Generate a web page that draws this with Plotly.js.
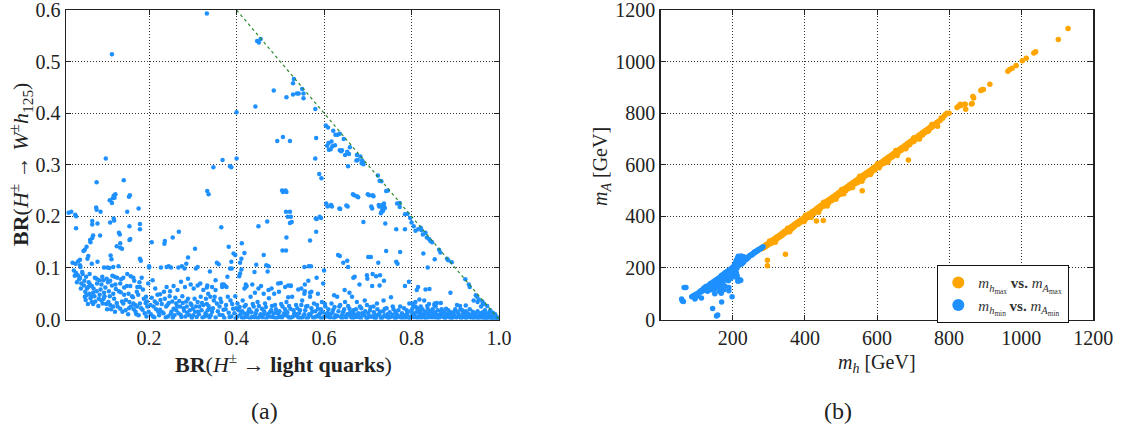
<!DOCTYPE html>
<html>
<head>
<meta charset="utf-8">
<script src="https://cdn.plot.ly/plotly-3.0.1.min.js"></script>
<style>
html,body{margin:0;padding:0;background:#fff;}
#chart{width:1124px;height:434px;}
</style>
</head>
<body>
<div id="chart"></div>
<script>
// ---- Panel (a): BR(H -> light quarks) vs BR(H -> W h125) ----
const brUpper = [
[0.332,0.593],[0.115,0.514],[0.447,0.540],[0.451,0.537],[0.455,0.544],
[0.531,0.466],[0.529,0.458],[0.550,0.447],[0.553,0.438],[0.542,0.438],[0.538,0.438],[0.529,0.436],[0.553,0.429],[0.514,0.431],[0.485,0.444],[0.443,0.413],[0.400,0.402],[0.580,0.408],
[0.604,0.376],[0.609,0.372],[0.621,0.366],[0.626,0.358],[0.631,0.358],[0.636,0.360],[0.645,0.350],
[0.610,0.342],[0.617,0.345],[0.607,0.337],[0.611,0.329],[0.615,0.330],[0.619,0.336],[0.625,0.338],
[0.636,0.328],[0.641,0.328],[0.639,0.326],[0.648,0.319],[0.653,0.325],[0.657,0.321],[0.659,0.334],
[0.675,0.319],[0.674,0.308],[0.677,0.309],[0.683,0.316],[0.687,0.308],[0.689,0.305],[0.690,0.301],[0.686,0.303],
[0.493,0.346],[0.506,0.354],[0.522,0.346],[0.582,0.352],
[0.368,0.309],[0.400,0.312],[0.580,0.312],[0.347,0.295],[0.385,0.297],[0.388,0.295],
[0.101,0.312],[0.080,0.266],[0.142,0.270],[0.079,0.217],[0.080,0.213],[0.089,0.209],
[0.110,0.231],[0.115,0.226],[0.121,0.236],[0.123,0.243],[0.119,0.240],[0.117,0.235],
[0.150,0.209],[0.154,0.238],[0.156,0.241],[0.176,0.215],[0.016,0.207],[0.022,0.209],[0.031,0.203],[0.033,0.200],[0.119,0.196],
[0.333,0.249],[0.336,0.243],[0.504,0.250],[0.506,0.247],[0.513,0.209],[0.522,0.209],[0.517,0.199],
[0.589,0.282],[0.594,0.274],[0.581,0.196],[0.593,0.197],[0.608,0.219],[0.616,0.222],[0.618,0.219],[0.637,0.214],[0.654,0.219],
[0.669,0.241],[0.675,0.239],[0.678,0.237],[0.703,0.241],[0.713,0.239],[0.710,0.215],
[0.726,0.219],[0.733,0.222],[0.737,0.219],[0.731,0.208],[0.735,0.211],[0.739,0.216],[0.746,0.250],[0.767,0.225],[0.773,0.218],
[0.723,0.279],[0.727,0.269],[0.731,0.268],[0.742,0.249],[0.655,0.297],
[0.033,0.177],[0.070,0.191],[0.070,0.184],[0.082,0.186],[0.120,0.192],[0.111,0.188],[0.155,0.181],[0.179,0.185],[0.179,0.175],
[0.088,0.163],[0.072,0.163],[0.070,0.158],[0.065,0.154],[0.066,0.150],[0.131,0.168],[0.133,0.165],[0.134,0.148],[0.157,0.156],[0.155,0.154],
[0.206,0.150],[0.236,0.152],[0.235,0.147],[0.268,0.170],[0.254,0.159],[0.305,0.137],
[0.057,0.141],[0.053,0.135],[0.050,0.133],[0.061,0.123],[0.059,0.118],[0.126,0.142],[0.134,0.139],[0.138,0.137],[0.112,0.124],[0.114,0.117],[0.179,0.118],[0.181,0.114],
[0.025,0.110],[0.032,0.108],[0.038,0.113],[0.042,0.116],[0.042,0.105],[0.043,0.102],[0.082,0.112],[0.069,0.108],
[0.200,0.103],[0.200,0.101],[0.097,0.101],[0.105,0.101],[0.109,0.100],[0.118,0.102],[0.130,0.103],
[0.227,0.101],[0.240,0.102],[0.245,0.103],[0.250,0.101],[0.267,0.101],[0.275,0.103],[0.281,0.099],[0.285,0.108],[0.289,0.120],[0.311,0.102],[0.307,0.099],
[0.512,0.250],[0.514,0.247],[0.666,0.243],[0.605,0.225],[0.615,0.221],[0.651,0.221],[0.635,0.215],[0.524,0.199],[0.522,0.187],[0.526,0.189],[0.583,0.195],[0.590,0.199],[0.470,0.190],[0.450,0.181],[0.365,0.179],[0.582,0.170],[0.514,0.159],[0.568,0.153],[0.412,0.148],[0.382,0.141],[0.505,0.134],[0.513,0.134],[0.393,0.128],[0.397,0.125],[0.418,0.129],[0.462,0.125],[0.411,0.118],[0.408,0.110],[0.388,0.112],[0.632,0.125],[0.636,0.123],[0.653,0.114],[0.644,0.110],[0.355,0.110],[0.359,0.107],[0.445,0.106],[0.468,0.105],[0.473,0.103],[0.555,0.102],[0.565,0.103],[0.570,0.103],[0.655,0.102],
[0.700,0.243],[0.711,0.241],[0.708,0.219],[0.725,0.222],[0.737,0.225],[0.730,0.206],[0.733,0.212],[0.734,0.215],[0.773,0.226],
[0.785,0.204],[0.791,0.205],[0.797,0.197],[0.800,0.188],[0.805,0.181],[0.809,0.172],[0.815,0.175],[0.823,0.173],[0.821,0.178],[0.832,0.168],[0.835,0.159],[0.840,0.156],[0.843,0.152],[0.847,0.150],[0.863,0.135],[0.866,0.130],[0.881,0.118],[0.884,0.115],[0.892,0.111],[0.923,0.078],[0.931,0.068],[0.933,0.063],[0.947,0.047],[0.950,0.044],[0.962,0.035],[0.966,0.030],[0.973,0.026],[0.980,0.018],[0.986,0.013],[0.991,0.010],
[0.690,0.189],[0.740,0.186],[0.765,0.175],[0.785,0.175],[0.826,0.165],[0.827,0.128],[0.853,0.117],[0.837,0.101],[0.742,0.133],[0.774,0.131],[0.701,0.121],[0.707,0.121],[0.724,0.110],[0.765,0.112],[0.768,0.108]
];
const brMiddle = [
[0.028,0.095],[0.033,0.090],[0.037,0.086],[0.042,0.081],[0.048,0.088],[0.051,0.066],[0.056,0.083],[0.061,0.063],[0.065,0.068],[0.069,0.065],[0.076,0.081],[0.080,0.079],[0.086,0.076],[0.091,0.068],[0.095,0.076],[0.103,0.079],[0.111,0.075],[0.115,0.066],[0.121,0.083],[0.127,0.081],[0.134,0.070],[0.141,0.081],[0.149,0.065],[0.158,0.084],[0.164,0.081],[0.173,0.063],[0.183,0.081],
[0.054,0.054],[0.057,0.047],[0.053,0.044],[0.063,0.050],[0.066,0.041],[0.072,0.052],[0.080,0.055],[0.089,0.058],[0.097,0.052],[0.108,0.055],[0.118,0.050],[0.124,0.059],[0.135,0.053],[0.143,0.048],[0.153,0.050],[0.163,0.043],[0.172,0.054],[0.179,0.063],[0.193,0.044],[0.208,0.076],[0.214,0.060],[0.225,0.049],[0.234,0.054],[0.240,0.063],[0.248,0.055],[0.256,0.065],[0.265,0.057],[0.273,0.073],[0.282,0.063],[0.289,0.079],[0.295,0.068],[0.302,0.060],[0.311,0.066],[0.317,0.070],[0.324,0.057],[0.332,0.062],
[0.339,0.093],[0.385,0.099],[0.389,0.099],[0.411,0.097],[0.408,0.089],[0.406,0.084],[0.441,0.092],[0.471,0.093],[0.600,0.095],[0.564,0.075],[0.583,0.081],[0.379,0.083],[0.371,0.068],[0.374,0.065],[0.367,0.063],[0.421,0.068],[0.423,0.065],[0.418,0.060],[0.495,0.070],[0.501,0.071],[0.518,0.066],[0.524,0.066],[0.548,0.060],[0.556,0.055],[0.568,0.052],[0.598,0.070],
[0.333,0.066],[0.344,0.063],[0.352,0.057],[0.352,0.076],[0.367,0.068],[0.377,0.063],[0.421,0.063],[0.436,0.068],[0.450,0.060],[0.456,0.065],[0.473,0.057],[0.480,0.060],[0.486,0.050],[0.511,0.063],[0.524,0.065],[0.541,0.058],[0.555,0.050],[0.571,0.054],[0.586,0.050],[0.556,0.068],[0.647,0.057],[0.658,0.052],[0.623,0.047],[0.518,0.043],[0.442,0.052],
[0.670,0.083],[0.698,0.086],[0.699,0.079],[0.711,0.088],[0.719,0.084],[0.728,0.086],[0.681,0.068],[0.710,0.065],[0.727,0.066],[0.737,0.075],[0.785,0.065],[0.794,0.073],[0.815,0.063],[0.812,0.057],[0.832,0.058],[0.841,0.059],[0.889,0.052],[0.818,0.039],[0.829,0.037],[0.853,0.031],[0.852,0.028],[0.867,0.032],[0.667,0.081]
];
const brLower = [
[0.069,0.034],[0.072,0.030],[0.091,0.037],[0.094,0.031],[0.107,0.034],[0.111,0.028],[0.118,0.025],[0.126,0.032],[0.134,0.021],[0.141,0.031],[0.146,0.018],[0.155,0.034],[0.158,0.025],[0.164,0.031],[0.169,0.015],[0.173,0.025],[0.179,0.031],[0.185,0.019],[0.192,0.032],[0.196,0.025],[0.199,0.015],[0.204,0.010],[0.210,0.025],[0.218,0.031],[0.225,0.019],[0.233,0.012],[0.239,0.025],[0.245,0.032],[0.251,0.015],[0.256,0.021],[0.262,0.031],[0.267,0.012],[0.271,0.025],[0.277,0.032],[0.280,0.017],[0.286,0.025],[0.292,0.008],[0.295,0.031],[0.300,0.021],[0.305,0.015],[0.309,0.005],[0.315,0.025],[0.321,0.032],[0.329,0.012],[0.334,0.018],[0.332,0.008],
[0.045,0.070],[0.040,0.078],[0.058,0.060],[0.062,0.072],[0.075,0.045],[0.085,0.040],[0.098,0.045],[0.104,0.020],[0.122,0.015],[0.138,0.035],[0.152,0.010],[0.165,0.020],[0.176,0.008],[0.188,0.040],[0.194,0.006],[0.212,0.004],[0.221,0.015],[0.229,0.030],[0.243,0.006],[0.254,0.003],[0.262,0.018],[0.274,0.005],[0.287,0.013],[0.298,0.003],[0.312,0.015],[0.322,0.004],[0.338,0.004],
[0.335,0.050],[0.340,0.044],[0.348,0.037],[0.332,0.030],[0.338,0.021],[0.344,0.015],[0.355,0.031],[0.361,0.025],[0.365,0.034],[0.370,0.019],[0.376,0.028],[0.382,0.013],[0.386,0.037],[0.392,0.021],[0.397,0.045],[0.402,0.031],[0.405,0.018],[0.409,0.010],[0.414,0.037],[0.418,0.025],[0.423,0.005],[0.427,0.015],[0.432,0.044],[0.435,0.005],[0.439,0.025],[0.444,0.012],[0.448,0.034],[0.453,0.006],[0.458,0.021],[0.462,0.050],[0.465,0.031],[0.470,0.010],[0.474,0.041],[0.479,0.018],[0.483,0.005],[0.488,0.028],[0.492,0.013],[0.497,0.054],[0.500,0.005],[0.505,0.025],[0.509,0.012],[0.514,0.034],[0.518,0.006],[0.523,0.021],[0.527,0.044],[0.532,0.012],[0.536,0.028],[0.541,0.004],[0.545,0.018],[0.550,0.037],[0.555,0.010],[0.559,0.025],[0.564,0.005],[0.568,0.044],[0.573,0.015],[0.577,0.031],[0.582,0.006],[0.586,0.021],[0.591,0.012],[0.595,0.034],[0.600,0.005],[0.603,0.025],[0.608,0.013],[0.612,0.005],[0.617,0.031],[0.621,0.019],[0.626,0.008],[0.630,0.044],[0.635,0.025],[0.639,0.005],[0.644,0.015],[0.648,0.034],[0.653,0.010],[0.658,0.021],[0.662,0.005],[0.667,0.013],
[0.664,0.044],[0.675,0.034],[0.682,0.025],[0.693,0.037],[0.698,0.028],[0.705,0.018],[0.713,0.025],[0.721,0.031],[0.728,0.015],[0.736,0.037],[0.739,0.021],[0.745,0.010],[0.753,0.043],[0.757,0.025],[0.763,0.015],[0.774,0.025],[0.782,0.008],[0.789,0.018],[0.795,0.031],[0.802,0.021],[0.805,0.012],[0.809,0.025],[0.812,0.005],[0.817,0.018],[0.821,0.025],[0.826,0.010],[0.831,0.015],[0.837,0.021],[0.843,0.005],[0.849,0.012],[0.855,0.025],[0.861,0.008],[0.867,0.015],[0.873,0.005],[0.879,0.021],[0.885,0.010],[0.892,0.004],[0.898,0.015],[0.904,0.028],[0.910,0.006],[0.916,0.018],[0.922,0.004],[0.928,0.012],[0.934,0.005],[0.940,0.015],[0.947,0.008],[0.953,0.004],[0.959,0.012],[0.965,0.006],[0.971,0.003],[0.977,0.008],[0.983,0.004],[0.989,0.006],[0.995,0.003],[0.998,0.001],
[0.667,0.018],[0.672,0.008],[0.687,0.012],[0.702,0.005],[0.717,0.008],[0.733,0.004],[0.751,0.005],[0.769,0.006],[0.786,0.003],[0.800,0.005],[0.802,0.031],[0.809,0.034],[0.840,0.030],[0.858,0.032],[0.911,0.026],[0.924,0.027],[0.942,0.037],[0.951,0.034],[0.954,0.039],[0.959,0.025],[0.963,0.030],[0.968,0.018],[0.980,0.015],
[0.352,0.004],[0.361,0.009],[0.372,0.003],[0.388,0.006],[0.398,0.002],[0.412,0.004],[0.419,0.011],[0.431,0.002],[0.442,0.007],[0.449,0.003],[0.461,0.009],[0.468,0.002],[0.477,0.006],[0.489,0.003],[0.496,0.011],[0.504,0.004],[0.513,0.008],[0.521,0.002],[0.529,0.006],[0.538,0.010],[0.546,0.003],[0.553,0.007],[0.561,0.002],[0.569,0.009],[0.578,0.004],[0.587,0.008],[0.594,0.002],[0.606,0.006],[0.615,0.010],[0.623,0.003],[0.631,0.007],[0.641,0.002],[0.649,0.005],[0.657,0.009],[0.665,0.002],[0.676,0.005],[0.684,0.002],[0.692,0.008],[0.699,0.003],[0.708,0.006],[0.716,0.002],[0.724,0.009],[0.731,0.002],[0.741,0.006],[0.748,0.003],[0.757,0.009],[0.764,0.002],[0.772,0.006],[0.779,0.003],[0.791,0.007],[0.797,0.002],[0.806,0.009],[0.814,0.003],[0.819,0.012],[0.824,0.006],[0.833,0.002],[0.838,0.009],[0.846,0.004],[0.852,0.010],[0.858,0.002],[0.864,0.006],[0.871,0.011],[0.876,0.003],[0.883,0.007],[0.889,0.002],[0.895,0.009],[0.902,0.004],[0.907,0.011],[0.913,0.002],[0.919,0.007],[0.925,0.003],[0.931,0.009],[0.937,0.002],[0.943,0.006],[0.949,0.002],[0.955,0.008],[0.961,0.003],[0.967,0.002],[0.974,0.005],[0.979,0.002],[0.985,0.003],[0.992,0.002],[0.996,0.004]
];
const brDense = [
[0.030,0.085],[0.035,0.072],[0.044,0.060],[0.047,0.092],[0.052,0.075],[0.055,0.038],[0.060,0.030],[0.064,0.088],[0.068,0.045],[0.073,0.060],[0.077,0.035],[0.081,0.070],[0.084,0.026],[0.087,0.048],[0.093,0.083],[0.096,0.040],[0.100,0.062],[0.102,0.030],[0.106,0.072],[0.110,0.045],[0.113,0.020],[0.116,0.085],[0.120,0.040],[0.123,0.068],[0.128,0.025],[0.131,0.055],[0.136,0.078],[0.139,0.015],[0.143,0.062],[0.147,0.038],[0.150,0.088],[0.154,0.022],[0.157,0.065],[0.161,0.045],[0.166,0.075],[0.168,0.028],[0.171,0.010],[0.175,0.048],[0.178,0.072],[0.182,0.022],[0.186,0.058],[0.190,0.012],[0.195,0.035],[0.198,0.070],
[0.203,0.028],[0.206,0.042],[0.209,0.006],[0.213,0.035],[0.216,0.020],[0.219,0.048],[0.223,0.008],[0.226,0.038],[0.230,0.014],[0.236,0.040],[0.238,0.004],[0.242,0.028],[0.247,0.045],[0.249,0.010],[0.253,0.035],[0.258,0.008],[0.260,0.042],[0.264,0.025],[0.269,0.036],[0.272,0.009],[0.276,0.045],[0.279,0.022],[0.283,0.006],[0.285,0.035],[0.289,0.040],[0.293,0.018],[0.297,0.028],[0.301,0.008],[0.304,0.040],[0.307,0.025],[0.311,0.034],[0.314,0.010],[0.318,0.044],[0.320,0.018],[0.324,0.028],[0.327,0.006],[0.330,0.040],[0.336,0.026],[0.341,0.008],[0.346,0.022],[0.350,0.044],[0.357,0.016],[0.363,0.040],[0.368,0.008],[0.375,0.020],[0.380,0.044],[0.384,0.005],[0.390,0.030],[0.395,0.012],[0.399,0.022],
[0.402,0.006],[0.407,0.024],[0.413,0.016],[0.416,0.003],[0.421,0.028],[0.425,0.009],[0.429,0.020],[0.434,0.014],[0.437,0.030],[0.441,0.004],[0.446,0.018],[0.451,0.026],[0.455,0.010],[0.459,0.004],[0.463,0.016],[0.467,0.024],[0.472,0.006],[0.476,0.014],[0.481,0.026],[0.485,0.012],[0.490,0.020],[0.494,0.004],[0.498,0.016],[0.502,0.030],[0.507,0.008],[0.511,0.020],[0.516,0.014],[0.520,0.026],[0.525,0.004],[0.530,0.018],[0.534,0.008],[0.539,0.022],[0.543,0.012],[0.548,0.028],[0.551,0.004],[0.557,0.018],[0.562,0.026],[0.566,0.010],[0.571,0.022],[0.575,0.004],[0.580,0.016],[0.584,0.028],[0.589,0.006],[0.593,0.020],[0.597,0.014],[0.602,0.030],[0.605,0.010],[0.610,0.020],[0.614,0.004],[0.619,0.014],[0.624,0.024],[0.628,0.006],[0.633,0.016],[0.637,0.028],[0.642,0.010],[0.646,0.020],[0.651,0.004],[0.655,0.026],[0.660,0.014],[0.664,0.008],
[0.669,0.004],[0.673,0.020],[0.678,0.012],[0.681,0.005],[0.685,0.022],[0.689,0.008],[0.694,0.016],[0.697,0.003],[0.701,0.012],[0.706,0.024],[0.710,0.006],[0.714,0.014],[0.719,0.003],[0.722,0.020],[0.726,0.010],[0.730,0.004],[0.735,0.016],[0.738,0.008],[0.743,0.022],[0.746,0.004],[0.750,0.014],[0.755,0.006],[0.759,0.020],[0.762,0.003],[0.766,0.010],[0.770,0.018],[0.775,0.004],[0.778,0.012],[0.783,0.022],[0.787,0.006],[0.790,0.012],[0.794,0.003],[0.798,0.016],[0.801,0.008],[0.804,0.026],[0.807,0.004],[0.811,0.014],[0.813,0.022],[0.816,0.006],[0.820,0.016],[0.822,0.003],[0.825,0.020],[0.828,0.008],[0.830,0.004],[0.834,0.012],[0.836,0.026],[0.839,0.004],[0.842,0.016],[0.845,0.008],[0.848,0.020],[0.851,0.004],[0.854,0.014],[0.857,0.008],[0.860,0.018],[0.863,0.003],[0.866,0.010],[0.869,0.020],[0.872,0.006],[0.875,0.014],[0.878,0.003],[0.881,0.010],[0.884,0.018],[0.887,0.006],[0.890,0.014],[0.893,0.003],[0.897,0.008],[0.900,0.020],[0.903,0.004],[0.906,0.014],[0.909,0.008],[0.912,0.020],[0.915,0.004],[0.918,0.012],[0.921,0.008],[0.924,0.016],[0.927,0.004],[0.930,0.010],[0.933,0.020],[0.936,0.006],[0.939,0.010],[0.942,0.003],[0.945,0.012],[0.948,0.006],[0.951,0.016],[0.954,0.003],[0.957,0.010],[0.960,0.006],[0.963,0.014],[0.966,0.004],[0.969,0.010],[0.972,0.002],[0.975,0.012],[0.978,0.005],[0.981,0.009],[0.984,0.002],[0.987,0.008],[0.990,0.003],[0.993,0.006],[0.997,0.002]
];
// kinematic boundary BR_Wh = 1 - BR_lq
const boundaryX = [0.4, 1.0];
const boundaryY = [0.6, 0.0];

// ---- Panel (b): m_h vs m_A ----
const massMax = [ // [m_h_max, m_A_max]
[296,230],[296,208],[346,253],[432,382],[451,384],[559,499],[687,618],
[270,268],[274,272],[278,276],[282,280],[286,283],[290,288],[294,292],[298,294],[300,298],[304,302],[308,305],[310,300],[312,310],[316,313],[320,318],[322,312],[324,322],[328,325],[330,320],[332,330],[336,333],[340,338],[342,332],[344,342],[348,345],[350,340],[352,350],[356,353],[360,358],[362,350],[364,362],[368,365],[370,360],[372,370],[376,373],[380,378],[382,370],[384,382],[388,385],[390,378],[392,390],[396,393],[400,398],[402,390],[404,402],[408,405],[410,395],[412,410],[416,412],[418,405],[420,418],[424,421],[426,412],[428,425],[432,429],[434,420],[436,434],[440,437],[442,428],[444,442],[448,445],[450,438],[452,450],[456,453],[458,445],[460,458],[464,461],[466,452],[468,466],[472,469],[474,460],[476,474],[480,477],[482,468],[484,482],[488,485],[490,478],[492,490],[496,493],[498,485],[500,498],[504,501],[506,492],[508,506],[512,509],[514,500],[516,514],[520,517],[522,508],[524,522],[528,525],[530,516],[532,530],[536,533],[538,525],[540,538],[544,541],[546,530],[548,546],[552,549],[554,540],[556,554],[560,557],[562,548],[564,562],[568,565],[570,558],[572,570],[576,573],[578,565],[580,578],[584,581],[586,572],[588,586],[592,589],[594,580],[596,594],[600,598],[602,590],[604,602],[608,605],[610,598],[612,610],[616,613],[618,605],[620,618],[624,621],[626,612],[628,626],[632,629],[634,622],[636,634],[640,637],[642,630],[644,642],[648,645],[650,638],[652,650],[656,653],[658,645],[660,658],[664,661],[666,655],[668,666],[672,669],[674,662],[676,674],[680,677],[682,670],[684,682],[688,685],[690,678],[692,690],[696,693],[700,698],[702,690],[704,702],[708,705],[712,710],[714,702],[716,714],[720,717],[724,722],[726,715],[728,726],[732,730],[736,734],[740,738],[742,730],[744,742],[748,746],[752,745],[756,754],[760,758],[766,764],[767,762],[768,749],[758,755],[770,768],[778,781],[787,790],[794,800],[800,800],
[283,275],[289,280],[295,286],[301,292],[307,296],[313,304],[319,308],[325,316],[331,322],[337,326],[343,334],[349,338],[355,346],[361,352],[367,356],[373,364],[379,368],[385,376],[391,382],[397,386],[403,394],[409,398],[415,406],[421,410],[427,418],[433,424],[439,428],[445,436],[451,440],[457,448],[463,452],[469,460],[475,464],[481,472],[487,476],[493,484],[499,488],[505,496],[511,500],[517,508],[523,512],[529,520],[535,524],[541,532],[547,536],[553,544],[559,548],[565,556],[571,560],[577,568],[583,572],[589,580],[595,584],[601,592],[607,596],[613,604],[619,608],[625,616],[631,620],[637,628],[643,632],[649,640],[655,644],[661,652],[667,656],[673,664],[679,668],[685,676],[691,680],[697,688],[703,694],[709,700],[715,706],[721,712],[727,718],[733,724],[739,730],[745,736],[751,744],[757,750],[763,758],[775,772],[782,780],[790,795],
[302,304],[352,354],[402,404],[452,455],[502,504],[552,555],[602,605],[652,655],[702,705],[752,756],
[318,300],[358,340],[398,380],[418,396],[438,416],[462,440],[486,466],[508,488],[532,512],[558,536],[582,562],[606,588],[630,610],[656,636],[680,662],[718,700],
[822,822],[827,828],[831,835],[833,830],[845,835],[846,815],[842,835],[864,837],[862,836],[866,865],[868,859],[888,888],[892,892],[895,892],[913,912],[963,963],[968,969],[975,974],[986,985],[1003,1003],[1014,1013],[1035,1033],[1040,1038],[1103,1086],[1130,1128]
];
const massMin = [ // [m_h_min, m_A_min]
[65,124],[70,124],[58,79],[60,72],[63,70],[86,88],[95,79],[97,86],[100,90],[113,83],[144,43],[155,14],[158,17],[169,68],[189,111],[189,124],[198,88],[215,152],[219,150],[214,148],
[90,92],[95,96],[100,100],[105,104],[108,108],[112,112],[115,110],[118,118],[120,122],[122,115],[125,128],[128,126],[130,130],[132,120],[135,135],[136,128],[138,140],[140,132],[140,115],[142,142],[144,138],[145,125],[146,146],[148,140],[150,150],[150,118],[152,132],[153,148],[155,155],[156,140],[158,128],[160,160],[160,145],[162,135],[163,110],[165,165],[165,150],[166,120],[168,170],[168,155],[170,140],[170,172],[172,160],[174,175],[175,150],[176,165],[178,180],[178,130],[180,170],[180,182],[182,160],[184,185],[185,175],[186,188],[188,165],[190,190],[190,180],[192,192],[192,170],[194,195],[195,185],[196,198],[198,175],[198,200],[200,202],[200,190],[202,205],[203,195],[204,210],[205,185],[206,215],[208,200],[208,222],[210,212],[210,230],[212,205],[213,238],[215,220],[215,245],[217,235],[218,210],[220,243],[220,225],[222,238],[223,246],[224,230],[225,215],[226,240],[228,232],[230,222],[230,243],[232,235],[234,236],[236,232],[238,238],[240,240],[242,238],[245,245],[248,248],[250,250],[252,252],[255,254],[258,258],[260,262],[263,264],[266,266],[270,270],[275,272],[280,278],[212,170],[208,165],[218,155],[222,152],[210,180],[195,160],[188,150],[175,115],[168,102],[150,100],[130,110],
[100,96],[104,98],[110,106],[116,112],[124,120],[126,116],[134,126],[137,132],[141,136],[143,130],[147,135],[149,144],[151,138],[154,150],[157,152],[159,140],[161,155],[164,158],[167,145],[169,162],[171,168],[173,155],[177,172],[179,160],[181,178],[183,170],[187,182],[189,175],[191,185],[193,178],[197,192],[199,185],[201,196],[203,188],[205,200],[207,192],[209,205],[211,198],[214,210],[216,228],[219,240],[221,232],[224,244],[227,236],[229,228],[233,240],[237,234],[239,236],[243,242],[247,246],[253,250],[257,255],[262,260],[268,266],[273,271],[278,276],[284,282]
];

const FONT = 'Liberation Serif';
const BLUE = '#1e90ff', ORANGE = '#ffa500';

const brAll = brLower.concat(brDense, brMiddle, brUpper);

const traces = [
  {x: brAll.map(p => p[0]), y: brAll.map(p => p[1]), type: 'scatter', mode: 'markers',
   marker: {color: BLUE, size: 4.5}, xaxis: 'x', yaxis: 'y', showlegend: false, hoverinfo: 'skip'},
  {x: boundaryX, y: boundaryY, type: 'scatter', mode: 'lines',
   line: {color: '#2e8b2e', width: 1.2, dash: '3px,3px'}, xaxis: 'x', yaxis: 'y', showlegend: false, hoverinfo: 'skip'},
  {x: massMax.map(p => p[0]), y: massMax.map(p => p[1]), type: 'scatter', mode: 'markers',
   marker: {color: ORANGE, size: 5.5}, xaxis: 'x2', yaxis: 'y2',
   name: '<i>m</i><sub><i>h</i><sub>max</sub></sub> <b>vs.</b> <i>m</i><sub><i>A</i><sub>max</sub></sub>'},
  {x: massMin.map(p => p[0]), y: massMin.map(p => p[1]), type: 'scatter', mode: 'markers',
   marker: {color: BLUE, size: 5.5}, xaxis: 'x2', yaxis: 'y2',
   name: '<i>m</i><sub><i>h</i><sub>min</sub></sub> <b>vs.</b> <i>m</i><sub><i>A</i><sub>min</sub></sub>'}
];

function axisBase(extra) {
  return Object.assign({
    showline: true, linecolor: '#222', linewidth: 1.4, mirror: 'allticks',
    ticks: 'inside', ticklen: 5, tickwidth: 1, tickcolor: '#222',
    showgrid: true, gridcolor: '#333', gridwidth: 1, griddash: '1px,2px',
    zeroline: false, ticklabeloverflow: 'allow',
    tickfont: {family: FONT, size: 20, color: '#222'}, fixedrange: true
  }, extra);
}

const W = 1124, H = 434;
function ann(text, px, py, size, angle) {
  return {text: text, xref: 'paper', yref: 'paper', x: px / W, y: 1 - py / H,
    xanchor: 'center', yanchor: 'middle', textangle: angle || 0, showarrow: false,
    font: {family: FONT, size: size, color: '#222'}};
}
const layout = {
  width: W, height: H, margin: {l: 0, r: 0, t: 0, b: 0},
  paper_bgcolor: '#fff', plot_bgcolor: '#fff',
  font: {family: FONT, color: '#222'},
  xaxis: axisBase({domain: [66/W, 499/W], range: [0.01, 1.0], anchor: 'y',
    tickvals: [0.2, 0.4, 0.6, 0.8, 1.0], ticktext: ['0.2','0.4','0.6','0.8','1.0']}),
  yaxis: axisBase({domain: [1-319.5/H, 1-10/H], range: [0, 0.6], anchor: 'x',
    tickvals: [0, 0.1, 0.2, 0.3, 0.4, 0.5, 0.6], ticktext: ['0.0','0.1','0.2','0.3','0.4','0.5','0.6']}),
  xaxis2: axisBase({domain: [660.7/W, 1093.3/W], range: [0, 1200], anchor: 'y2',
    tickvals: [200, 400, 600, 800, 1000, 1200]}),
  yaxis2: axisBase({domain: [1-319.5/H, 1-10/H], range: [0, 1200], anchor: 'x2',
    tickvals: [0, 200, 400, 600, 800, 1000, 1200]}),
  showlegend: true,
  legend: {x: 937/W, y: 1-265/H, xanchor: 'left', yanchor: 'top',
    bordercolor: '#111', borderwidth: 1.3, bgcolor: '#fff',
    font: {family: FONT, size: 15, color: '#333'}, itemsizing: 'constant',
    tracegroupgap: 2},
  annotations: [
    ann('<b>BR</b>(<i>H</i><sup>±</sup> → <i>W</i><sup>±</sup><i>h</i><sub>125</sub>)', 20, 165, 22, -90),
    ann('<b>BR</b>(<i>H</i><sup>±</sup> → <b>light quarks</b>)', 283, 363, 22),
    ann('(a)', 264, 411, 24),
    ann('<i>m<sub>h</sub></i> [GeV]', 877, 363, 20),
    ann('<i>m<sub>A</sub></i> [GeV]', 602, 167, 20, -90),
    ann('(b)', 838, 411, 24)
  ]
};

Plotly.newPlot('chart', traces, layout, {displayModeBar: false, staticPlot: true});
</script>
</body>
</html>
